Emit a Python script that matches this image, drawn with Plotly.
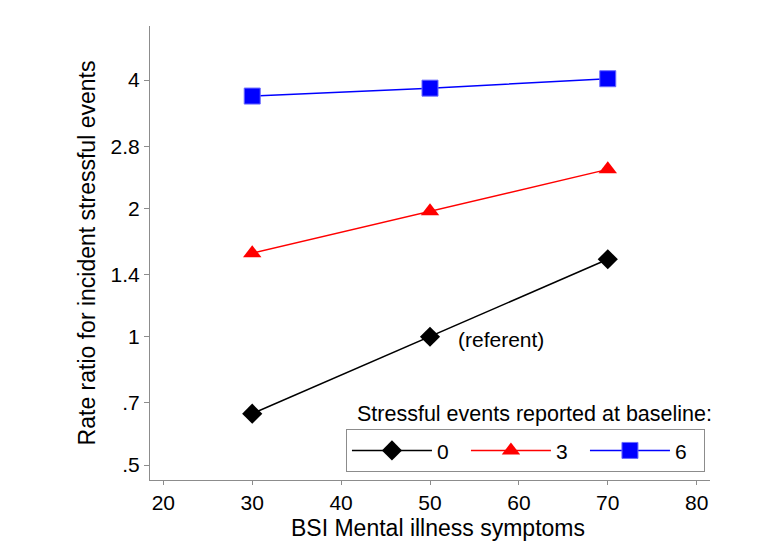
import plotly.graph_objects as go

bsi = [30, 50, 70]
rr_0 = [0.66, 1.0, 1.52]
rr_3 = [1.57, 1.97, 2.47]
rr_6 = [3.67, 3.83, 4.03]
series_names = ["0", "3", "6"]
y_ticks = [0.5, 0.7, 1, 1.4, 2, 2.8, 4]
y_tick_labels = [".5", ".7", "1", "1.4", "2", "2.8", "4"]
x_ticks = [20, 30, 40, 50, 60, 70, 80]

fig = go.Figure()
styles = [
    ("black", "diamond", 15.5, "black"),
    ("red", "triangle-up", 16, "red"),
    ("blue", "square", 16, "#6a6aff"),
]
for name, ys, (col, sym, sz, lc) in zip(series_names, [rr_0, rr_3, rr_6], styles):
    fig.add_trace(go.Scatter(
        x=bsi, y=ys, name=name, mode="lines+markers",
        line=dict(color=col, width=1.5),
        marker=dict(symbol=sym, size=sz, color=col, line=dict(color=lc, width=1 if col == "blue" else 0)),
    ))

fig.add_annotation(x=50, y=0, xref="x", yref="y", text="(referent)", showarrow=False,
                   xanchor="left", xshift=26, yshift=-3, font=dict(size=21, color="black"))
fig.add_annotation(x=1.008, y=0.146, xref="paper", yref="paper", yanchor="middle", xanchor="right",
                   text="Stressful events reported at baseline:", showarrow=False,
                   font=dict(size=21.5, color="black"))
fig.add_annotation(x=0.515, y=-0.106, xref="paper", yref="paper", yanchor="middle", xanchor="center",
                   text="BSI Mental illness symptoms", showarrow=False,
                   font=dict(size=23, color="black"))

axis_common = dict(showline=True, linecolor="#8c8c8c", linewidth=1.2, ticks="outside",
                   tickcolor="#8c8c8c", showgrid=False, zeroline=False,
                   tickfont=dict(size=21, color="black"))
fig.update_xaxes(range=[18.5, 81.5], tickvals=x_ticks, ticklen=4, **axis_common)
fig.update_yaxes(type="log", range=[-0.336, 0.729], tickvals=y_ticks, ticktext=y_tick_labels, ticklen=5,
                 title=dict(text="Rate ratio for incident stressful events", font=dict(size=23, color="black"), standoff=8),
                 **axis_common)

fig.update_layout(
    width=760, height=560,
    margin=dict(l=142, r=58, t=18, b=88),
    plot_bgcolor="white", paper_bgcolor="white",
    font=dict(family="Liberation Sans, Arial, sans-serif", color="black"),
    legend=dict(orientation="h", x=0.991, xanchor="right", y=0.017, yanchor="bottom",
                bordercolor="#8c8c8c", borderwidth=1, bgcolor="white",
                font=dict(size=21), itemwidth=80, entrywidth=24, traceorder="normal"),
)

fig.write_html("out.html")
